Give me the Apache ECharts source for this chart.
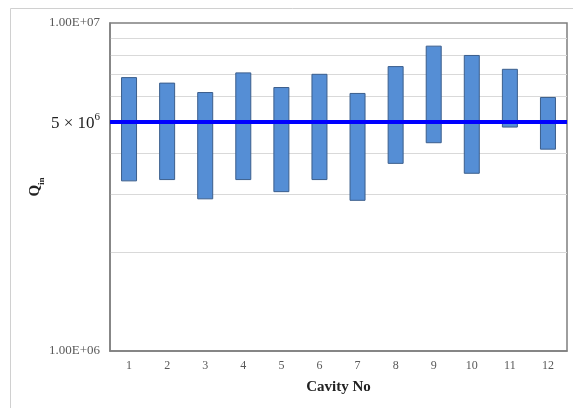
<!DOCTYPE html>
<html>
<head>
<meta charset="utf-8">
<script src="https://cdn.jsdelivr.net/npm/echarts@6/dist/echarts.min.js"></script>
<style>
html,body{margin:0;padding:0;background:#fff;}
#chart{width:573px;height:408px;}
</style>
</head>
<body>
<div id="chart"></div>
<script>
const categories = ['1','2','3','4','5','6','7','8','9','10','11','12'];
const lowValues  = [3.29e6, 3.32e6, 2.90e6, 3.32e6, 3.05e6, 3.32e6, 2.87e6, 3.72e6, 4.30e6, 3.47e6, 4.80e6, 4.11e6];
const highValues = [6.84e6, 6.58e6, 6.16e6, 7.07e6, 6.38e6, 7.00e6, 6.12e6, 7.39e6, 8.53e6, 7.99e6, 7.25e6, 5.95e6];
const gridValues = [2e6, 3e6, 4e6, 5e6, 6e6, 7e6, 8e6, 9e6];
const referenceValue = 5e6;
const yTickValues = [1e6, 1e7];
const yTickLabels = ['1.00E+06', '1.00E+07'];

const rangeValues = highValues.map((h, i) => h - lowValues[i]);
const serif = '"Liberation Serif", "DejaVu Serif", serif';

const chart = echarts.init(document.getElementById('chart'), null, {renderer: 'canvas'});
chart.setOption({
  animation: false,
  backgroundColor: '#ffffff',
  graphic: [{
    type: 'rect', z: -10,
    shape: {x: 10.5, y: 8.5, width: 700, height: 500},
    style: {fill: 'none', stroke: '#d0d0d0', lineWidth: 1}
  }],
  grid: {
    left: 110, right: 6, top: 23, bottom: 57,
    show: true, borderColor: '#7f7f7f', borderWidth: 1.5, backgroundColor: 'transparent'
  },
  xAxis: {
    type: 'category',
    data: categories,
    axisLine: {show: true, lineStyle: {color: '#7f7f7f', width: 1.5}},
    axisTick: {show: false},
    axisLabel: {fontFamily: serif, fontSize: 12, color: '#595959', margin: 9},
    name: 'Cavity No',
    nameLocation: 'middle',
    nameGap: 29,
    nameMoveOverlap: false,
    nameTextStyle: {fontFamily: serif, fontSize: 15, fontWeight: 'bold', color: '#222'}
  },
  yAxis: {
    type: 'log',
    logBase: 10,
    min: 1e6, max: 1e7,
    axisLine: {show: true, lineStyle: {color: '#7f7f7f', width: 1.5}},
    axisTick: {show: false},
    splitLine: {show: false},
    axisLabel: {
      fontFamily: serif, fontSize: 13, color: '#595959', margin: 10,
      formatter: function (v) {
        for (let i = 0; i < yTickValues.length; i++) {
          if (Math.abs(v - yTickValues[i]) / yTickValues[i] < 1e-6) return yTickLabels[i];
        }
        return '';
      }
    },
    name: '{q|Q}{s|in}',
    nameLocation: 'middle',
    nameGap: 64,
    nameMoveOverlap: false,
    nameRotate: 90,
    nameTextStyle: {
      rich: {
        q: {fontFamily: serif, fontSize: 15, fontWeight: 'bold', color: '#222', lineHeight: 18, verticalAlign: 'middle'},
        s: {fontFamily: serif, fontSize: 9, fontWeight: 'bold', color: '#222', lineHeight: 22, verticalAlign: 'bottom'}
      }
    }
  },
  series: [
    {
      type: 'line', z: 1, zlevel: 0, data: [], silent: true,
      markLine: {
        silent: true, symbol: 'none', animation: false, z: 0,
        label: {show: false},
        lineStyle: {color: '#d9d9d9', width: 1, type: 'solid'},
        data: gridValues.map(v => ({yAxis: v}))
      }
    },
    {
      type: 'bar', stack: 'range', data: lowValues, barWidth: 16,
      itemStyle: {color: 'rgba(0,0,0,0)'}, silent: true, z: 2
    },
    {
      type: 'bar', stack: 'range', data: rangeValues, barWidth: 16,
      itemStyle: {color: '#558ed5', borderColor: '#3b5e8c', borderWidth: 1}, z: 3
    },
    {
      type: 'line', z: 5, data: [], silent: true,
      markLine: {
        silent: true, symbol: 'none', animation: false, z: 6,
        lineStyle: {color: '#0000ff', width: 4, type: 'solid'},
        label: {
          show: true, position: 'start', distance: 10,
          formatter: '{a|5 × 10}{b|6}',
          rich: {
            a: {fontFamily: serif, fontSize: 17, color: '#222', verticalAlign: 'bottom', lineHeight: 20},
            b: {fontFamily: serif, fontSize: 11, color: '#222', verticalAlign: 'top', lineHeight: 20}
          }
        },
        data: [{yAxis: referenceValue}]
      }
    }
  ]
});
</script>
</body>
</html>
